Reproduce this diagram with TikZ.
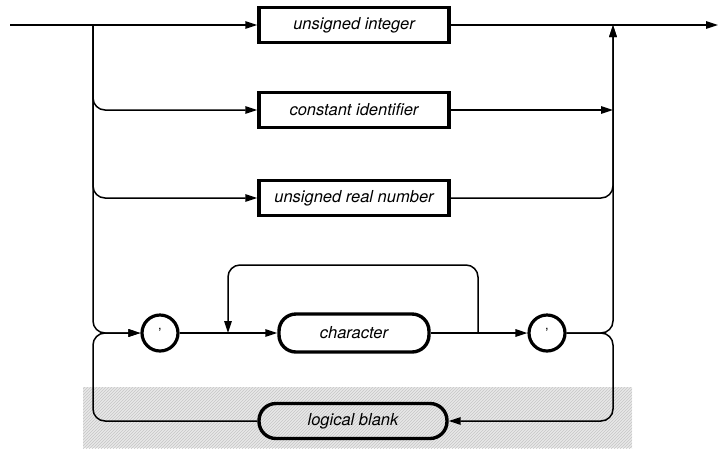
\documentclass[tikz,border=0pt]{standalone}
\usepackage{fontspec}
\setsansfont{TeX Gyre Heros}
\usetikzlibrary{arrows.meta,calc,positioning,patterns}

\tikzset{
  box/.style={draw,line width=3.4pt,minimum width=190pt,minimum height=35pt,
    font=\fontsize{16.5}{20}\selectfont\sffamily\itshape},
  pill/.style={box,rounded corners=17pt},
  quote/.style={draw,circle,line width=3.2pt,minimum size=36pt,inner sep=0pt,
    font=\fontsize{14}{16}\selectfont\sffamily},
  conn/.style={line width=1.5pt,rounded corners=12pt},
  arr/.style={conn,-{Triangle[length=12pt,width=7.5pt]}},
}

\begin{document}
\begin{tikzpicture}[x=1pt,y=-1pt]
            \useasboundingbox (0,0) rectangle (719,448);
            % shaded strip behind logical blank
            \fill[gray!18] (83,387) rectangle (632,448);
            \fill[pattern=north east lines,pattern color=gray!45] (83,387) rectangle (632,448);
            \node[box] (uint) at (354,25) {unsigned integer};
            \node[box] (cid) at (354,110) {constant identifier};
            \node[box] (ureal) at (354,198) {unsigned real number};
            \node[quote] (lq) at (160,333) {'};
            \node[pill,minimum width=150pt,minimum height=38pt] (char) at (354,333) {character};
            \node[quote] (rq) at (547,333) {'};
            \node[pill,minimum width=188pt] (blank) at (353,421) {logical blank};
            \coordinate (start) at (10,25);
            \coordinate (finish) at (718,25);
            \coordinate (split) at (93,25);
            \coordinate (join) at (613,25);
            \coordinate (loopout) at (478,333);
            \coordinate (loopin) at (228,333);
            % entry branches
            \draw[arr](start)--(uint);
            \draw[arr](split)|-(cid);
            \draw[arr](split)|-(ureal);
            \draw[arr](split)|-(lq);
            \draw[arr](blank)-|($(split)!(lq)!(split|-blank)$)--(lq);
            % exit branches
            \draw[arr](uint)--(finish);
            \draw[arr](cid)--(cid-|join);
            \draw[arr](ureal)-|(join);
            \draw[arr](rq)-|(join);
            \draw[arr](rq)-|(join|-blank)--(blank);
            % string body
            \draw[arr](lq)--(char);
            \draw[arr](char)--(rq);
            \draw[arr](loopout)|-($(loopin)+(0,-68)$)--(loopin);
        \end{tikzpicture}
\end{document}
